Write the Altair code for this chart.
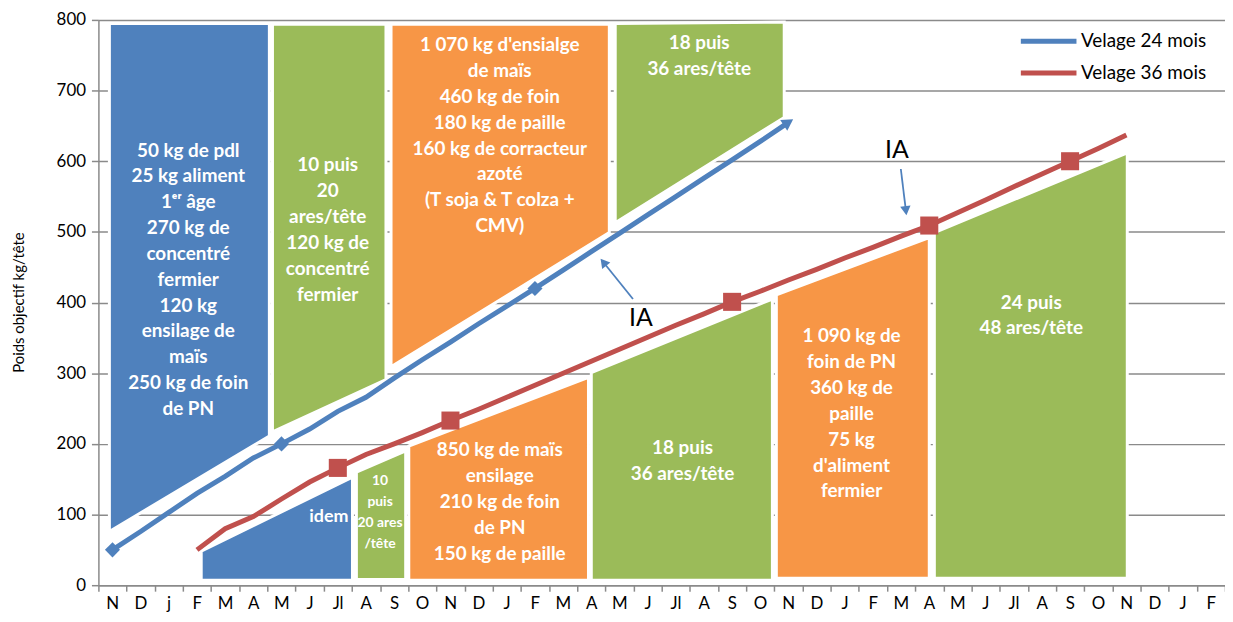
import json
import altair as alt
import pandas as pd

# ---------------- data ----------------
MONTHS = ["N", "D", "j", "F", "M", "A", "M", "J", "Jl", "A", "S", "O",
          "N", "D", "J", "F", "M", "A", "M", "J", "Jl", "A", "S", "O",
          "N", "D", "J", "F", "M", "A", "M", "J", "Jl", "A", "S", "O",
          "N", "D", "J", "F"]

SERIES = ["Velage 24 mois", "Velage 36 mois"]
BLUE_START = 0
BLUE_LINE = [50, 76, 103, 130, 154, 180, 200, 221, 246, 266, 293, 319, 344,
             370, 395, 420, 446, 472, 498, 524, 550, 576, 602, 628, 655]
RED_START = 3
RED_LINE = [50, 80, 97, 122, 146, 166, 185, 200, 216, 233, 249, 266, 283,
            300, 317, 334, 351, 368, 384, 401, 416, 432, 447, 463, 478, 494,
            509, 527, 545, 564, 582, 600, 618, 637]
BLUE_MARKERS = [0, 6, 15]
BLUE_ARROW = [24]
RED_MARKERS = [8, 12, 22, 29, 34]

# feeding-period blocks (x in months from the first "N", y in kg)
SHAPE_ID = ["A", "B", "C", "D", "E", "F", "G", "H", "I", "J"]
SHAPE_X0 = [0.39, 6.18, 10.39, 18.35, 3.65, 9.16, 11.02, 17.50, 24.07, 29.68]
SHAPE_X1 = [6.07, 10.21, 18.14, 24.35, 9.02, 10.91, 17.40, 23.93, 29.50, 36.53]
SHAPE_TOP0 = [795, 794, 794, 795, 48, 160, 197, 301, 411, 499]
SHAPE_TOP1 = [795, 794, 794, 797, 153, 190, 294, 405, 492, 612]
SHAPE_BOT0 = [76, 217, 309, 513, 7, 8, 7, 7, 10, 10]
SHAPE_BOT1 = [211, 291, 499, 662, 7, 8, 7, 7, 10, 10]
SHAPE_KIND = ["blue", "green", "orange", "green", "blue", "green",
              "orange", "green", "orange", "green"]

# text blocks: x centre, y of the first line
TEXT_X = [3.19, 8.14, 14.25, 21.33, 14.25, 20.74, 26.74, 33.12]
TEXT_Y = [615, 594, 764, 767, 191, 194, 352, 400]
TEXT = [
    "50 kg de pdl\n25 kg aliment\n1ᵉʳ âge\n270 kg  de\nconcentré\nfermier\n120 kg\nensilage de\nmaïs\n250 kg de foin\nde PN",
    "10 puis\n20\nares/tête\n120 kg de\nconcentré\nfermier",
    "1 070 kg d'ensialge\nde maïs\n460 kg de foin\n180 kg de paille\n160 kg de corracteur\nazoté\n(T soja & T colza +\nCMV)",
    "18 puis\n36 ares/tête",
    "850 kg de maïs\nensilage\n210 kg de foin\nde PN\n150 kg de paille",
    "18 puis\n36 ares/tête",
    "1 090 kg de\nfoin de PN\n360 kg de\npaille\n75 kg\nd'aliment\nfermier",
    "24 puis\n48 ares/tête",
]
IDEM_X, IDEM_Y, IDEM_TEXT = [8.18], [96], ["idem"]
SMALL_X, SMALL_Y, SMALL_TEXT = [10.0], [147], ["10\npuis\n20 ares\n/tête"]

IA_X = [19.26, 28.35]
IA_Y = [378, 616]
IA_TEXT = ["IA", "IA"]
ARROW_X = [18.98, 28.49]
ARROW_Y = [405, 589]
ARROW_X2 = [17.93, 28.67]
ARROW_Y2 = [457, 530]

# ---------------- styles ----------------
C_BLUE = "#4F81BD"
C_RED = "#C0504D"
C_GREEN = "#9BBB59"
C_ORANGE = "#F79646"
KIND_COLORS = {"blue": C_BLUE, "green": C_GREEN, "orange": C_ORANGE}
GRAY = "#8a8a8a"
FONT = "Lato"

# ---------------- tables ----------------
rows = []
for i, sid in enumerate(SHAPE_ID):
    col = KIND_COLORS[SHAPE_KIND[i]]
    rows.append({"id": sid, "x": SHAPE_X0[i], "top": SHAPE_TOP0[i], "bot": SHAPE_BOT0[i], "col": col})
    rows.append({"id": sid, "x": SHAPE_X1[i], "top": SHAPE_TOP1[i], "bot": SHAPE_BOT1[i], "col": col})
shapes_df = pd.DataFrame(rows)

line_rows = []
for k, v in enumerate(BLUE_LINE):
    idx = BLUE_START + k
    line_rows.append({"series": SERIES[0], "idx": idx, "x": idx + 0.5, "y": v})
for k, v in enumerate(RED_LINE):
    idx = RED_START + k
    line_rows.append({"series": SERIES[1], "idx": idx, "x": idx + 0.5, "y": v})
lines_df = pd.DataFrame(line_rows)

blue_m = lines_df[(lines_df.series == SERIES[0]) & lines_df.idx.isin(BLUE_MARKERS)]
blue_a = lines_df[(lines_df.series == SERIES[0]) & lines_df.idx.isin(BLUE_ARROW)]
red_m = lines_df[(lines_df.series == SERIES[1]) & lines_df.idx.isin(RED_MARKERS)]

text_df = pd.DataFrame({"x": TEXT_X, "y": TEXT_Y, "t": TEXT})
idem_df = pd.DataFrame({"x": IDEM_X, "y": IDEM_Y, "t": IDEM_TEXT})
small_df = pd.DataFrame({"x": SMALL_X, "y": SMALL_Y, "t": SMALL_TEXT})
ia_df = pd.DataFrame({"x": IA_X, "y": IA_Y, "t": IA_TEXT})
arr_df = pd.DataFrame({"x": ARROW_X, "y": ARROW_Y, "x2": ARROW_X2, "y2": ARROW_Y2})

# ---------------- scales & axes ----------------
XS = alt.Scale(domain=[0, 40], nice=False, zero=False)
YS = alt.Scale(domain=[0, 800], nice=False)
label_expr = "datum.value < 40 ? " + json.dumps(MONTHS) + "[datum.value] : ''"
XA = alt.Axis(values=list(range(41)), labelExpr=label_expr, labelOffset=14,
              tickSize=6, grid=False, title=None, labelFontSize=17,
              labelPadding=4, labelOverlap=False, labelFlush=False,
              labelBound=False)
YA = alt.Axis(values=list(range(0, 801, 100)), tickSize=7, grid=True,
              title="Poids objectif kg/tête", labelFontSize=17, labelPadding=6,
              titleFontSize=15, titleFontWeight="normal", titleX=-80,
              titleY=284, titleAngle=270, titleAlign="center",
              titleBaseline="middle")


def X(field="x"):
    return alt.X(f"{field}:Q", scale=XS, axis=XA)


def Y(field="y"):
    return alt.Y(f"{field}:Q", scale=YS, axis=YA, stack=None)


areas = alt.Chart(shapes_df).mark_area(stroke="white", strokeWidth=3, opacity=1,
                                       fillOpacity=1).encode(
    x=X(), y=Y("top"), y2=alt.Y2("bot:Q"),
    fill=alt.Fill("col:N", scale=None, legend=None), detail="id:N")

lines = alt.Chart(lines_df).mark_line(strokeWidth=5).encode(
    x=X(), y=Y(),
    color=alt.Color("series:N", scale=alt.Scale(domain=SERIES, range=[C_BLUE, C_RED]),
                    legend=alt.Legend(title=None, orient="none", legendX=940, legendY=5,
                                      symbolType="M-2,0H2", symbolStrokeWidth=5,
                                      symbolSize=784, labelFontSize=19,
                                      labelFont=FONT, labelColor="black",
                                      labelOffset=16, rowPadding=5)),
    order="x:Q")

bm = alt.Chart(blue_m).mark_point(shape="diamond", filled=True, size=230, color=C_BLUE, opacity=1).encode(x=X(), y=Y())
ba = alt.Chart(blue_a).mark_point(shape="triangle-right", filled=True, size=170, angle=327, color=C_BLUE, opacity=1).encode(x=X(), y=Y())
rm = alt.Chart(red_m).mark_point(shape="square", filled=True, size=330, color=C_RED, opacity=1).encode(x=X(), y=Y())

txt = alt.Chart(text_df).mark_text(font=FONT, fontWeight="bold", fontSize=19, lineHeight=26,
                                   color="white", align="center", baseline="middle",
                                   lineBreak="\n").encode(x=X(), y=Y(), text="t:N")
idem = alt.Chart(idem_df).mark_text(font=FONT, fontWeight="bold", fontSize=18,
                                    color="white", align="center", baseline="middle").encode(x=X(), y=Y(), text="t:N")
small = alt.Chart(small_df).mark_text(font=FONT, fontWeight="bold", fontSize=14, lineHeight=21,
                                      color="white", align="center", baseline="middle",
                                      lineBreak="\n").encode(x=X(), y=Y(), text="t:N")
ia = alt.Chart(ia_df).mark_text(font=FONT, fontSize=25, color="black", align="center",
                                baseline="middle").encode(x=X(), y=Y(), text="t:N")
arrows = alt.Chart(arr_df).mark_rule(color=C_BLUE, strokeWidth=1.8).encode(
    x=X(), y=Y(), x2="x2:Q", y2="y2:Q")
head1 = alt.Chart(arr_df.iloc[[0]]).mark_point(shape="triangle-up", filled=True, size=110, angle=321,
                                               color=C_BLUE, opacity=1).encode(x=X("x2"), y=Y("y2"))
head2 = alt.Chart(arr_df.iloc[[1]]).mark_point(shape="triangle-up", filled=True, size=110, angle=173,
                                               color=C_BLUE, opacity=1).encode(x=X("x2"), y=Y("y2"))

chart = alt.layer(areas, lines, bm, ba, rm, txt, idem, small, ia, arrows, head1, head2).properties(
    width=1134, height=569,
    padding={"left": 91, "top": 10, "right": 0, "bottom": 27},
    autosize=alt.AutoSizeParams(type="none"),
).configure_view(stroke=None).configure_axis(
    labelFont=FONT, titleFont=FONT, labelColor="black", titleColor="black",
    domainColor=GRAY, domainWidth=1.5, tickColor=GRAY, tickWidth=1.5,
    gridColor=GRAY, gridWidth=1.5,
)

chart.save("out.html", embed_options={"renderer": "svg", "actions": False})
